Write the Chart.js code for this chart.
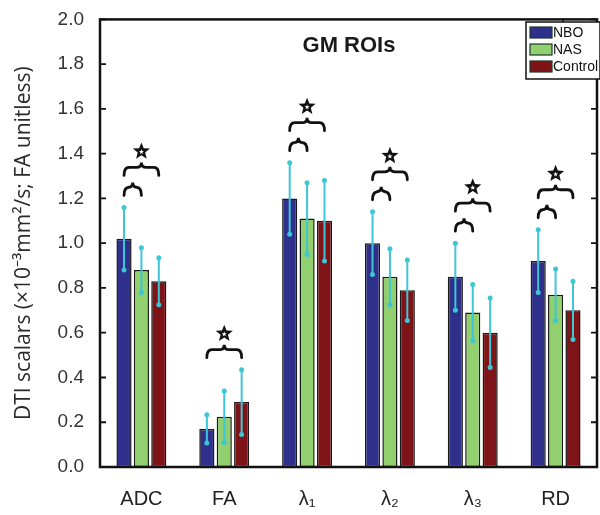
<!DOCTYPE html>
<html>
<head>
<meta charset="utf-8">
<script src="https://cdn.jsdelivr.net/npm/chart.js@4.4.1/dist/chart.umd.min.js"></script>
<style>
    html, body { margin: 0; padding: 0; background: #ffffff; }
    #wrap { width: 600px; height: 515px; position: relative; }
</style>
</head>
<body>
<div id="wrap"><canvas id="chart"></canvas></div>
<script>
const categories = ['ADC', 'FA', 'λ₁', 'λ₂', 'λ₃', 'RD'];
const seriesNames = ['NBO', 'NAS', 'Control'];
const nboValues = [1.02, 0.17, 1.20, 1.00, 0.85, 0.92];
const nasValues = [0.88, 0.225, 1.11, 0.85, 0.69, 0.77];
const controlValues = [0.83, 0.29, 1.10, 0.79, 0.60, 0.70];
const nboErrors = [0.14, 0.063, 0.16, 0.14, 0.15, 0.14];
const nasErrors = [0.10, 0.115, 0.16, 0.125, 0.125, 0.115];
const controlErrors = [0.105, 0.145, 0.18, 0.135, 0.155, 0.13];
// significance brackets per category: [NBO-NAS, NBO-Control]
const smallBrace = [true, false, true, true, true, true];
const bigBrace = [true, true, true, true, true, true];
const yTicks = [0, 0.2, 0.4, 0.6, 0.8, 1.0, 1.2, 1.4, 1.6, 1.8, 2.0];

const FONT = '"Liberation Sans", Arial, sans-serif';
const errColor = '#3cc6d6';
const colors = ['#2f2f8c', '#92cf6f', '#7e1417'];
const errors = [nboErrors, nasErrors, controlErrors];

function drawBrace(ctx, x1, x2, y) {
    const r = 5, xm = (x1 + x2) / 2, ym = y - 8;
    ctx.beginPath();
    ctx.moveTo(x1, y);
    ctx.quadraticCurveTo(x1, ym, x1 + r, ym);
    ctx.lineTo(xm - r, ym);
    ctx.quadraticCurveTo(xm, ym, xm, y - 13);
    ctx.quadraticCurveTo(xm, ym, xm + r, ym);
    ctx.lineTo(x2 - r, ym);
    ctx.quadraticCurveTo(x2, ym, x2, y);
    ctx.stroke();
}

function starPath(ctx, cx, cy, ro, ri) {
    ctx.beginPath();
    for (let i = 0; i < 10; i++) {
        const a = -Math.PI / 2 + i * Math.PI / 5;
        const rad = i % 2 === 0 ? ro : ri;
        ctx.lineTo(cx + rad * Math.cos(a), cy + rad * Math.sin(a));
    }
    ctx.closePath();
}

const decorations = {
    id: 'decorations',
    afterDatasetsDraw(chart) {
        const { ctx, chartArea: area, scales } = chart;
        const y = scales.y;
        ctx.save();

        // error bars
        chart.data.datasets.forEach((ds, di) => {
            const meta = chart.getDatasetMeta(di);
            meta.data.forEach((bar, i) => {
                const v = ds.data[i], e = errors[di][i];
                const yt = y.getPixelForValue(v + e), yb = y.getPixelForValue(v - e);
                ctx.strokeStyle = errColor;
                ctx.fillStyle = errColor;
                ctx.lineWidth = 2;
                ctx.beginPath();
                ctx.moveTo(bar.x, yt);
                ctx.lineTo(bar.x, yb);
                ctx.stroke();
                [yt, yb].forEach(py => {
                    ctx.beginPath();
                    ctx.arc(bar.x, py, 2.5, 0, Math.PI * 2);
                    ctx.fill();
                });
            });
        });

        // significance braces and stars
        ctx.strokeStyle = '#111';
        ctx.lineWidth = 2.8;
        ctx.lineCap = 'round';
        categories.forEach((c, i) => {
            const bars = [0, 1, 2].map(d => chart.getDatasetMeta(d).data[i]);
            const top = Math.max(...chart.data.datasets.map((ds, d) => ds.data[i] + errors[d][i]));
            const py = y.getPixelForValue(top);
            let bigY;
            if (smallBrace[i]) {
                const sy = py - 12;
                drawBrace(ctx, bars[0].x, bars[1].x, sy);
                bigY = sy - 20;
            } else {
                bigY = py - 12;
            }
            if (bigBrace[i]) {
                drawBrace(ctx, bars[0].x, bars[2].x, bigY);
                const sx = (bars[0].x + bars[2].x) / 2, sy = bigY - 24;
                ctx.fillStyle = '#111';
                starPath(ctx, sx, sy, 9, 3.9);
                ctx.fill();
                ctx.fillStyle = '#ffffff';
                starPath(ctx, sx, sy + 0.5, 2.6, 1.1);
                ctx.fill();
            }
        });

        // frame and inward ticks
        ctx.lineCap = 'butt';
        ctx.strokeStyle = '#111';
        ctx.lineWidth = 2.5;
        ctx.strokeRect(area.left, area.top, area.right - area.left, area.bottom - area.top);
        ctx.lineWidth = 1.8;
        yTicks.forEach(t => {
            const py = y.getPixelForValue(t);
            ctx.beginPath();
            ctx.moveTo(area.left, py);
            ctx.lineTo(area.left + 6, py);
            ctx.moveTo(area.right, py);
            ctx.lineTo(area.right - 6, py);
            ctx.stroke();
        });

        // title inside the plot
        ctx.fillStyle = '#1a1a1a';
        ctx.font = 'bold 22px ' + FONT;
        ctx.textAlign = 'center';
        ctx.textBaseline = 'middle';
        ctx.fillText('GM ROIs', 349, 46);

        // legend box
        const lx = 526, ly = 22, lw = 74, lh = 57;
        ctx.fillStyle = '#ffffff';
        ctx.fillRect(lx, ly, lw, lh);
        ctx.strokeStyle = '#111';
        ctx.lineWidth = 1.5;
        ctx.strokeRect(lx, ly, lw, lh);
        ctx.beginPath();
        ctx.moveTo(lx + 37, area.top);
        ctx.lineTo(lx + 37, ly);
        ctx.stroke();
        ctx.font = '14px ' + FONT;
        ctx.textAlign = 'left';
        chart.data.datasets.forEach((ds, di) => {
            const ry = ly + 5 + di * 17;
            ctx.fillStyle = ds.backgroundColor;
            ctx.fillRect(lx + 4, ry, 22, 11);
            ctx.strokeStyle = '#1a3a2a';
            ctx.lineWidth = 1.2;
            ctx.strokeRect(lx + 4, ry, 22, 11);
            ctx.fillStyle = '#111';
            ctx.fillText(ds.label, lx + 27, ry + 6);
        });

        ctx.restore();
    }
};

const datasets = [nboValues, nasValues, controlValues].map((vals, i) => ({
    label: seriesNames[i],
    data: vals,
    backgroundColor: colors[i],
    borderColor: '#1a1a1a',
    borderWidth: 1.5,
    borderSkipped: false,
    categoryPercentage: 0.63,
    barPercentage: 0.87,
}));

new Chart(document.getElementById('chart'), {
    type: 'bar',
    data: { labels: categories, datasets },
    options: {
        responsive: true,
        maintainAspectRatio: false,
        animation: false,
        layout: { padding: { top: 18, right: 3, left: 0, bottom: 0 } },
        plugins: {
            legend: { display: false },
            tooltip: { enabled: false },
        },
        scales: {
            x: {
                grid: { display: false },
                border: { display: false },
                ticks: { color: '#222', font: { family: FONT, size: 20 }, padding: 12 },
                afterFit: scale => { scale.height = 48; },
            },
            y: {
                min: 0,
                max: 2,
                afterBuildTicks: scale => { scale.ticks = yTicks.map(v => ({ value: v })); },
                grid: { display: false },
                border: { display: false },
                ticks: {
                    color: '#333',
                    font: { family: FONT, size: 19 },
                    padding: 8,
                    callback: v => Number(v).toFixed(1),
                },
                title: {
                    display: true,
                    text: 'DTI scalars (×10⁻³mm²/s; FA unitless)',
                    color: '#2a2a2a',
                    font: { family: '"Open Sans", sans-serif', size: 21, weight: '500' },
                    padding: { top: 11, bottom: 2 },
                },
                afterFit: scale => { scale.width = 100; },
            },
        },
    },
    plugins: [decorations],
});
</script>
</body>
</html>
